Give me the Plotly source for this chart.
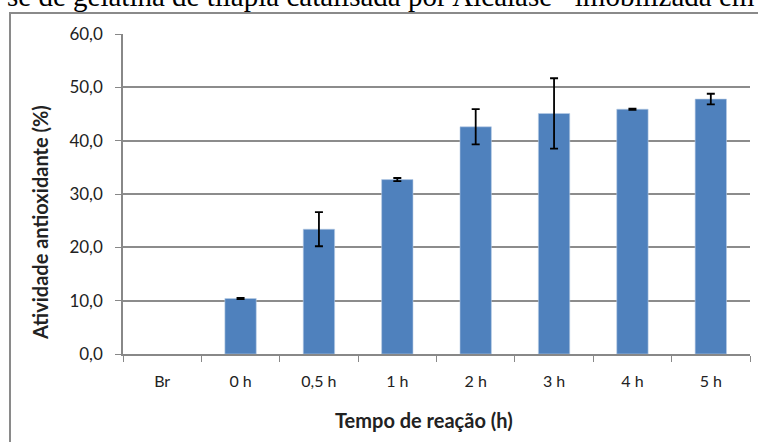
import plotly.graph_objects as go

categories = ["Br", "0 h", "0,5 h", "1 h", "2 h", "3 h", "4 h", "5 h"]
activity = [None, 10.4, 23.4, 32.7, 42.6, 45.1, 45.9, 47.8]
error = [None, 0.1, 3.2, 0.3, 3.3, 6.6, 0.1, 1.0]
y_ticks = [0, 10, 20, 30, 40, 50, 60]
y_tick_labels = ["0,0", "10,0", "20,0", "30,0", "40,0", "50,0", "60,0"]

W, H = 758, 442
L, R, T, B = 123, 8, 34, 88
pw, ph = W - L - R, H - T - B

def px(x):
    return (x - L) / pw

def py(y):
    return (H - B - y) / ph

font_family = "Lato, 'Open Sans', sans-serif"

fig = go.Figure(go.Bar(
    x=categories, y=activity, width=0.4,
    marker=dict(color="#4F81BD", line=dict(color="#B9CDE5", width=0.6)),
    error_y=dict(type="data", array=error, visible=True, color="black",
                 thickness=1.8, width=4),
))

fig.update_layout(
    width=W, height=H,
    margin=dict(l=L, r=R, t=T, b=B),
    paper_bgcolor="white", plot_bgcolor="white",
    showlegend=False,
    font=dict(family=font_family, size=16, color="#222"),
    bargap=0.6,
    xaxis=dict(
        type="category", tickson="boundaries", ticks="outside", ticklen=6,
        tickcolor="#888", showline=True, linecolor="#888", linewidth=1.5,
        showgrid=False, tickfont=dict(size=16, color="#222"),
        ticklabelstandoff=12,
    ),
    yaxis=dict(
        range=[0, 60], tickvals=y_ticks, ticktext=y_tick_labels,
        ticks="outside", ticklen=6, tickcolor="#888",
        showline=True, linecolor="#888", linewidth=1.5,
        showgrid=True, gridcolor="#8c8c8c", gridwidth=1.5,
        zeroline=False, tickfont=dict(size=17, color="#222"),
        ticklabelstandoff=9,
    ),
    shapes=[
        dict(type="rect", xref="paper", yref="paper",
             x0=px(10), x1=px(W + 20), y0=py(H + 20), y1=py(13),
             line=dict(color="#8a8a8a", width=2), fillcolor="rgba(0,0,0,0)",
             layer="below"),
    ],
    annotations=[
        dict(text="se de gelatina de tilápia catalisada por Alcalase<sup>®</sup> imobilizada em",
             xref="paper", yref="paper", x=px(757), y=py(14),
             xanchor="right", yanchor="bottom", showarrow=False,
             font=dict(family="'Liberation Serif', 'Times New Roman', serif", size=29, color="black")),
        dict(text="<b>Atividade antioxidante (%)</b>", textangle=-90,
             xref="paper", yref="paper", x=px(40), y=py(223),
             xanchor="center", yanchor="middle", showarrow=False,
             font=dict(family=font_family, size=20, color="#222")),
        dict(text="<b>Tempo de reação (h)</b>",
             xref="paper", yref="paper", x=px(424), y=py(420),
             xanchor="center", yanchor="middle", showarrow=False,
             font=dict(family=font_family, size=20, color="#222")),
    ],
)

fig.write_html("out.html", config={"displayModeBar": False},
               post_script="document.body.style.margin='0';document.body.style.padding='0';")
